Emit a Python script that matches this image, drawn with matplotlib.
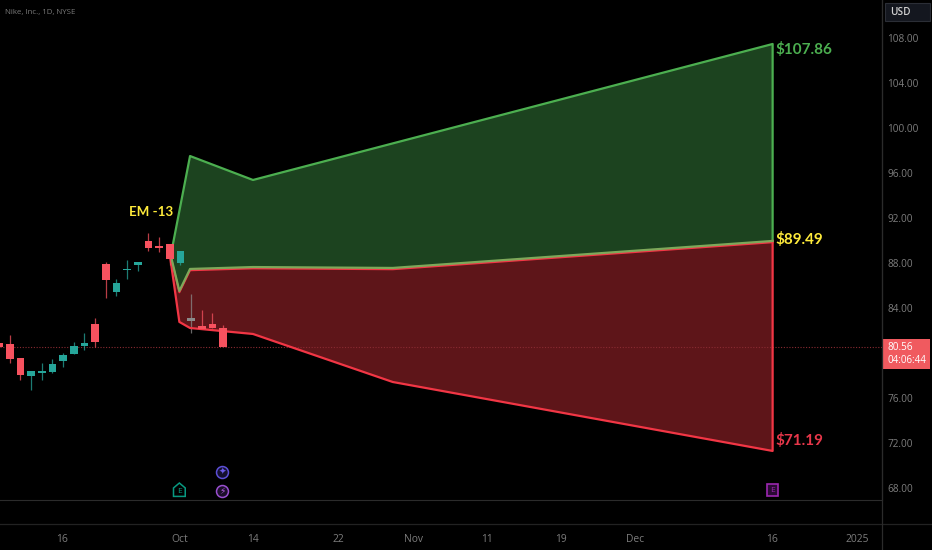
import matplotlib
matplotlib.use('Agg')
from matplotlib import pyplot as plt
from matplotlib.patches import Rectangle, Polygon

# candles, one per session, x is the session number
candle_x = list(range(-1, 21))
opens = [80.86, 80.77, 79.56, 77.98, 78.22, 78.29, 79.29, 79.94, 80.62, 82.6, 87.91, 85.4, 87.4, 87.82, 89.96, 89.48, 89.72, 87.97, 82.82, 82.4, 82.6, 82.2]
highs = [80.9, 81.6, 79.56, 78.4, 79.08, 79.47, 79.97, 81.0, 81.75, 83.14, 88.06, 86.58, 88.27, 88.06, 90.69, 90.33, 89.72, 89.09, 85.24, 83.82, 83.58, 82.49]
lows = [80.56, 79.08, 77.6, 76.71, 77.6, 78.2, 78.78, 79.94, 80.27, 80.56, 84.86, 85.07, 86.58, 87.31, 89.09, 89.0, 87.82, 87.82, 81.8, 82.13, 82.22, 80.56]
closes = [80.56, 79.44, 78.04, 78.4, 78.4, 79.05, 79.82, 80.62, 80.89, 80.98, 86.49, 86.2, 87.47, 88.06, 89.33, 89.36, 88.36, 89.09, 83.14, 82.13, 82.22, 80.56]

# expected move cone
upper_x = [15.2, 16.9, 22.8, 71.5]
upper = [89.2, 97.51, 95.38, 107.47]
middle_x = [14.9, 15.9, 16.9, 22.8, 35.9, 71.5]
middle = [89.42, 85.51, 87.47, 87.64, 87.56, 89.96]
lower_x = [14.9, 15.9, 16.9, 22.8, 35.9, 71.5]
lower = [89.42, 82.76, 82.22, 81.69, 77.42, 71.29]

last_price = 80.56
y_ticks = [108, 104, 100, 96, 92, 88, 84, 76, 72, 68]
x_tick_pos = [4.9, 15.9, 22.8, 30.8, 37.8, 44.7, 51.7, 58.6, 71.4, 79.4]
x_tick_labels = ['16', 'Oct', '14', '22', 'Nov', '11', '19', 'Dec', '16', '2025']

GREEN = '#089981'
UP = '#26a69a'
DOWN = '#f7525f'
BAND_G = '#4caf50'
BAND_R = '#f23645'
GREY_TXT = '#7d7d7d'
LABEL_FONT = ['Lato', 'DejaVu Sans']

plt.rcParams['font.family'] = ['Open Sans', 'DejaVu Sans']

fig = plt.figure(figsize=(9.32, 5.5), dpi=100, facecolor='black')
ax = fig.add_axes([0, 50 / 550, 882 / 932, 500 / 550], facecolor='black')
ax.set_xlim(-0.91, 81.75)
ax.set_ylim(66.93, 111.38)

# cone fills and outlines
ax.fill(upper_x + middle_x[::-1], upper + middle[::-1], color='#1c431f', lw=0, zorder=1)
ax.fill(middle_x + lower_x[::-1], middle + lower[::-1], color='#5e1519', lw=0, zorder=1)
ax.plot(upper_x + [71.5], upper + [middle[-1]], color=BAND_G, lw=1.6, zorder=4)
ax.plot(lower_x + [71.5], lower + [middle[-1]], color=BAND_R, lw=1.6, zorder=4)
ax.plot(middle_x, [m - 0.12 for m in middle], color=BAND_R, lw=1.4, zorder=4)
ax.plot(middle_x, middle, color='#7ea85a', lw=1.6, zorder=5)

# candles
for i, x in enumerate(candle_x):
    up = closes[i] >= opens[i]
    c = UP if up else DOWN
    if x == 17:
        c = '#8a8a8a'
    ax.plot([x, x], [lows[i], highs[i]], color=c, lw=0.9, alpha=0.75, zorder=2 if x >= 17 else 6, solid_capstyle='butt')
    ax.add_patch(Rectangle((x - 0.36, min(opens[i], closes[i])), 0.72,
                           max(abs(closes[i] - opens[i]), 0.1), color=c, lw=0, zorder=6))

# last price line
ax.axhline(last_price, color='#8a2b32', lw=0.8, ls=(0, (1, 1.5)), zorder=3)

# end of cone labels
ax.text(71.75, 107.0, '$107.86', color='#4caf50', fontsize=11, fontweight='bold', va='center', family=LABEL_FONT)
ax.text(71.75, 90.1, '$89.49', color='#ffeb3b', fontsize=11, fontweight='bold', va='center', family=LABEL_FONT)
ax.text(71.75, 72.25, '$71.19', color='#e8374a', fontsize=11, fontweight='bold', va='center', family=LABEL_FONT)
ax.text(11.2, 92.5, 'EM -13', color='#ffeb3b', fontsize=9.6, fontweight='bold', va='center', family=LABEL_FONT)
ax.text(-0.45, 110.3, 'Nike, Inc., 1D, NYSE', color='#7a7a7a', fontsize=5.7, va='center')

# axes
for s in ['top', 'left']:
    ax.spines[s].set_visible(False)
ax.spines['bottom'].set_color('#2b2b2b')
ax.spines['right'].set_color('#2b2b2b')
ax.yaxis.tick_right()
ax.set_yticks(y_ticks)
ax.set_yticklabels(['%.2f' % v for v in y_ticks])
ax.tick_params(axis='y', length=0, pad=4, labelsize=7.2, labelcolor=GREY_TXT)
ax.set_xticks(x_tick_pos)
ax.set_xticklabels(x_tick_labels)
ax.tick_params(axis='x', length=0, pad=24.5, labelsize=7.4, labelcolor=GREY_TXT)

# chart event markers along the bottom
ax.add_patch(Polygon([(15.35, 67.25), (15.35, 68.0), (15.9, 68.44), (16.45, 68.0), (16.45, 67.25)], fill=False, ec=GREEN, lw=1.1))
ax.text(15.9, 67.7, 'E', color=GREEN, fontsize=6, ha='center', va='center')
ax.add_patch(Rectangle((70.95, 67.25), 1.1, 1.1, fc='#2a0a33', ec='#9c27b0', lw=1.2))
ax.text(71.5, 67.8, 'E', color='#9c27b0', fontsize=6, ha='center', va='center')
ax.plot([19.9], [69.42], 'o', ms=8.6, mfc='#14102e', mec='#5c4fd6', mew=1.1)
ax.text(19.9, 69.42, '✦', color='#6a5be8', fontsize=6.5, ha='center', va='center')
ax.plot([19.9], [67.7], 'o', ms=8.6, mfc='#1c0f2a', mec='#9a4fd0', mew=1.1)
ax.text(19.9, 67.7, '⚡', color='#b45fe0', fontsize=6.5, ha='center', va='center', family=['DejaVu Sans'])

# right side widgets in figure pixels
ov = fig.add_axes([0, 0, 1, 1], facecolor='none')
ov.set_xlim(0, 932)
ov.set_ylim(550, 0)
ov.axis('off')
ov.plot([0, 932], [524, 524], color='#222222', lw=0.9)
ov.plot([882, 882], [0, 550], color='#2b2b2b', lw=0.9)
ov.add_patch(Rectangle((885, 3), 45, 18, fc='#14171f', ec='#2b2e36', lw=0.8))
ov.text(890, 12.5, 'USD', color='#d0d0d0', fontsize=7.2, fontweight='semibold', va='center')
ov.add_patch(Rectangle((883, 339), 47, 30, fc='#f05a5f', lw=0))
ov.text(888, 347, '%.2f' % last_price, color='white', fontsize=7.2, va='center')
ov.text(888, 360.5, '04:06:44', color='white', fontsize=7, va='center')

plt.savefig('out.png', dpi=100, facecolor='black')
